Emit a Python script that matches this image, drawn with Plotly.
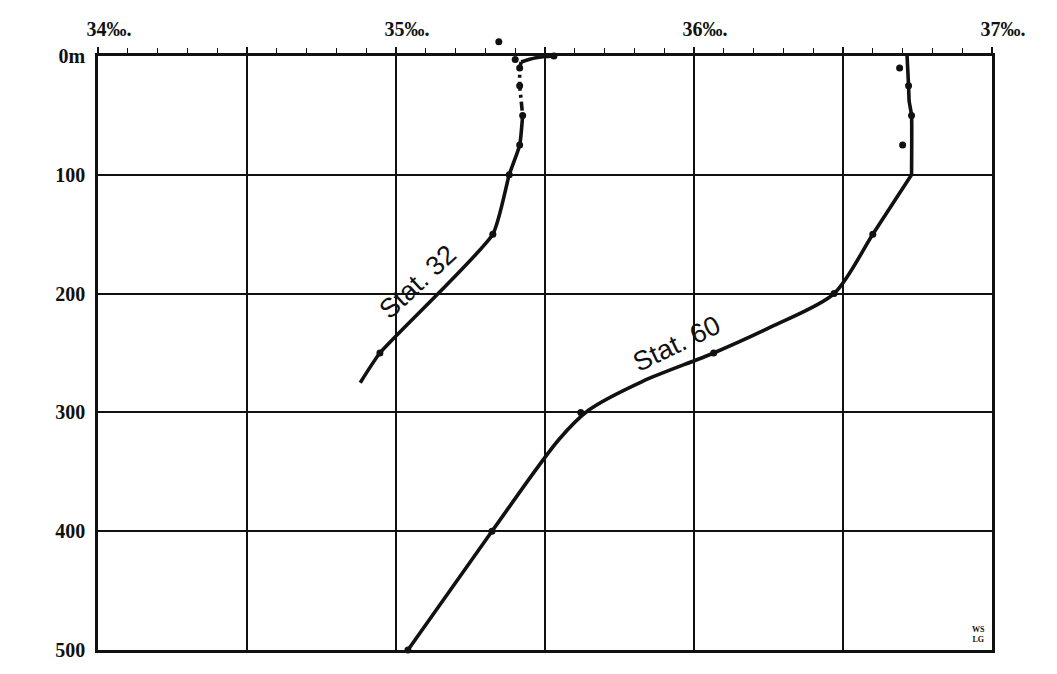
import plotly.graph_objects as go

# ---------------- data (salinity ‰, depth m) ----------------
# Stat. 32 — drawn curve
st32_hook_sal = [35.53, 35.47, 35.42]
st32_hook_dep = [0, 1.5, 5]
st32_dash_sal = [35.42, 35.415, 35.415, 35.425]
st32_dash_dep = [5, 10, 25, 50]
st32_solid_sal = [35.425, 35.415, 35.38, 35.325, 34.946, 34.88]
st32_solid_dep = [50, 75, 100, 150, 250, 275]
# Stat. 32 — observations
st32_obs_sal = [35.53, 35.40, 35.415, 35.415, 35.425, 35.415, 35.38, 35.325, 34.946]
st32_obs_dep = [0, 3, 10, 25, 50, 75, 100, 150, 250]
# isolated surface mark printed just above the frame
st32_extra_sal = [35.345]
st32_extra_dep = [-12]

# Stat. 60 — drawn curve
st60_top_sal = [36.715, 36.72, 36.722, 36.73, 36.73]
st60_top_dep = [0, 25, 38, 50, 100]
st60_low_sal = [36.73, 36.60, 36.47, 36.267, 36.066, 35.826, 35.647, 35.546, 35.322, 35.04]
st60_low_dep = [100, 150, 200, 227, 250, 274, 298, 323, 400, 500]
# Stat. 60 — observations
st60_obs_sal = [36.69, 36.72, 36.73, 36.70, 36.60, 36.47, 36.066, 35.62, 35.322, 35.04]
st60_obs_dep = [10, 25, 50, 75, 150, 200, 250, 300, 400, 500]

x_tickvals = [34, 34.5, 35, 35.5, 36, 36.5, 37]
x_ticktext = ["34‰.", "", "35‰.", "", "36‰.", "", "37‰."]
y_tickvals = [0, 100, 200, 300, 400, 500]
y_ticktext = ["0m", "100", "200", "300", "400", "500"]

LW = 3.6
INK = "#111111"

# layout geometry: plot frame from y=56 to y=650 px, margins t=30, b=24
M_T, M_B = 30, 24
H = 674
frame_top_px = 56
plot_h = H - M_T - M_B                          # 620
main_top = (H - M_B - frame_top_px) / plot_h    # domain top of main y axis
px_per_m = (H - M_B - frame_top_px) / 500.0
y2_top = 500 - plot_h / px_per_m

fig = go.Figure()

def line(x, y, dash="solid", shape="linear", smooth=None):
    kw = dict(color=INK, width=LW, dash=dash, shape=shape)
    if smooth is not None:
        kw["smoothing"] = smooth
    fig.add_trace(go.Scatter(x=x, y=y, mode="lines", line=kw,
                             hoverinfo="skip", showlegend=False))

line(st32_hook_sal, st32_hook_dep, shape="spline", smooth=1.0)
line(st32_dash_sal, st32_dash_dep, dash="9px,4px,3px,4px")
line(st32_solid_sal, st32_solid_dep, shape="spline", smooth=0.5)
line(st60_top_sal, st60_top_dep, shape="spline", smooth=0.4)
line(st60_low_sal, st60_low_dep, shape="spline", smooth=0.8)

for xs, ys in [(st32_obs_sal, st32_obs_dep), (st60_obs_sal, st60_obs_dep)]:
    fig.add_trace(go.Scatter(x=xs, y=ys, mode="markers",
                             marker=dict(color=INK, size=7),
                             cliponaxis=False, hoverinfo="skip", showlegend=False))
# mark above the frame: drawn on a hidden axis pair spanning the top margin strip
fig.add_trace(go.Scatter(x=st32_extra_sal, y=st32_extra_dep, mode="markers",
                         marker=dict(color=INK, size=7), xaxis="x2", yaxis="y2",
                         hoverinfo="skip", showlegend=False))

label_font = dict(family="Liberation Sans, Arial, sans-serif", size=27, color=INK)
fig.add_annotation(x=35.072, y=190, text="Stat. 32", showarrow=False,
                   textangle=-43, font=label_font, xref="x", yref="y")
fig.add_annotation(x=35.94, y=242, text="Stat. 60", showarrow=False,
                   textangle=-26, font=label_font, xref="x", yref="y")
fig.add_annotation(x=36.955, y=487, text="<b>WS<br>LG</b>", showarrow=False,
                   font=dict(family="Liberation Serif, serif", size=8, color=INK),
                   xref="x", yref="y")

tick_font = dict(family="Liberation Serif, Times New Roman, serif", size=20,
                 color=INK, weight="bold")

fig.update_layout(
    width=1057, height=H,
    margin=dict(l=98, r=65, t=M_T, b=M_B),
    paper_bgcolor="white", plot_bgcolor="rgba(0,0,0,0)",
    xaxis=dict(
        range=[34, 37], side="top", anchor="y",
        tickmode="array", tickvals=x_tickvals, ticktext=x_ticktext,
        ticks="outside", ticklen=6, tickwidth=1.5, tickcolor=INK,
        minor=dict(dtick=0.1, ticks="outside", ticklen=5, tickwidth=1.3,
                   tickcolor=INK, showgrid=False),
        showgrid=True, gridcolor=INK, gridwidth=1.5,
        showline=True, linecolor=INK, linewidth=2.5, mirror=True,
        zeroline=False,
        tickfont=tick_font, ticklabelshift=11, ticklabelstandoff=3,
    ),
    yaxis=dict(
        range=[500, 0], domain=[0, main_top], anchor="x",
        tickmode="array", tickvals=y_tickvals, ticktext=y_ticktext,
        ticks="", showgrid=True, gridcolor=INK, gridwidth=1.5,
        showline=True, linecolor=INK, linewidth=2.5, mirror=True,
        zeroline=False, tickfont=tick_font, ticklabelstandoff=6,
    ),
    xaxis2=dict(
        range=[34, 37], domain=[0, 1], anchor="y2",
        visible=False, showgrid=False, zeroline=False,
    ),
    yaxis2=dict(
        range=[500, y2_top], domain=[0, 1], anchor="x2",
        visible=False, showgrid=False, zeroline=False,
    ),
)

fig.write_html("out.html")
